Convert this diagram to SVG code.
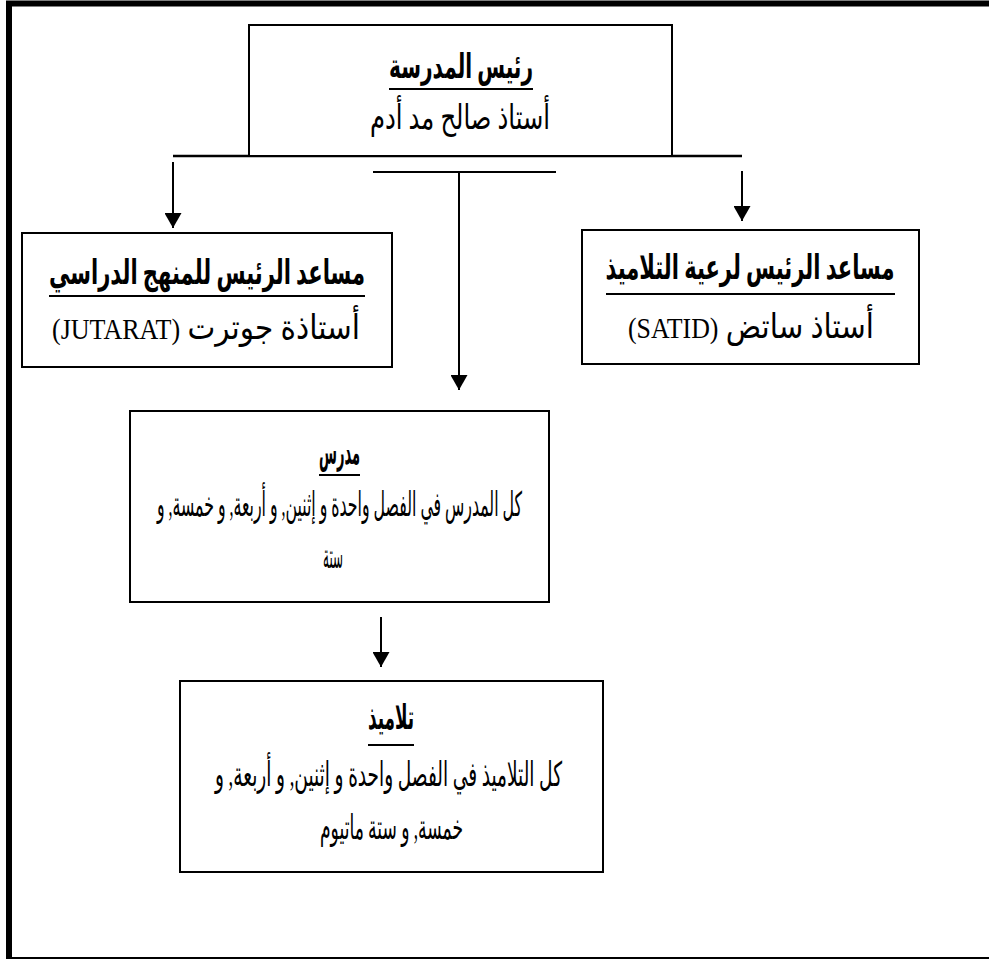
<svg xmlns="http://www.w3.org/2000/svg" width="989" height="959" viewBox="0 0 989 959">
<style>
.box{fill:#fff;stroke:#000;stroke-width:2}
.ln{stroke:#000;stroke-width:2;fill:none}
.ul{stroke:#000;stroke-width:2.2}
.h{font-family:"Liberation Serif","DejaVu Sans",serif;font-weight:bold;font-size:34px;fill:#000}
.t{font-family:"Liberation Serif","DejaVu Sans",serif;font-size:34px;fill:#000}
.lat{font-size:30px}
</style>
<defs>
<marker id="ah" markerUnits="userSpaceOnUse" markerWidth="15" markerHeight="17" refX="15" refY="8.5" orient="auto" viewBox="0 0 15 17">
<path d="M0,0 L15,8.5 L0,17 Z" fill="#000"/>
</marker>
</defs>
<rect width="989" height="959" fill="#fff"/>
<rect id="frame" x="9" y="3.5" width="990" height="956.5" fill="none" stroke="#000" stroke-width="6"/>

<g id="connectors">
<line class="ln" x1="173" y1="156" x2="742" y2="156" style="stroke-width:2.6"/>
<line class="ln" x1="373" y1="172" x2="556" y2="172"/>
<line class="ln" x1="173" y1="162" x2="173" y2="228" marker-end="url(#ah)"/>
<line class="ln" x1="742" y1="171" x2="742" y2="221" marker-end="url(#ah)"/>
<line class="ln" x1="459" y1="172" x2="459" y2="390" marker-end="url(#ah)"/>
<line class="ln" x1="381" y1="617" x2="381" y2="667" marker-end="url(#ah)"/>
</g>

<g id="principal">
<rect class="box" x="249" y="25" width="423" height="131"/>
<text class="h" x="461" y="78" text-anchor="middle" direction="rtl" textLength="144" lengthAdjust="spacingAndGlyphs">رئيس المدرسة</text>
<line class="ul" x1="389" y1="89" x2="533" y2="89"/>
<text class="t" x="460" y="129" text-anchor="middle" direction="rtl" textLength="180" lengthAdjust="spacingAndGlyphs">أستاذ صالح مد أدم</text>
</g>

<g id="assistant-curriculum">
<rect class="box" x="22" y="233" width="370" height="134"/>
<text class="h" x="207" y="284" text-anchor="middle" direction="rtl" textLength="316" lengthAdjust="spacingAndGlyphs">مساعد الرئيس للمنهج الدراسي</text>
<line class="ul" x1="49" y1="296" x2="365" y2="296"/>
<text class="t" x="206" y="339" text-anchor="middle" direction="rtl" textLength="308" lengthAdjust="spacingAndGlyphs">أستاذة جوترت <tspan class="lat">(JUTARAT)</tspan></text>
</g>

<g id="assistant-students">
<rect class="box" x="582" y="230" width="337" height="134"/>
<text class="h" x="750" y="279" text-anchor="middle" direction="rtl" textLength="289" lengthAdjust="spacingAndGlyphs">مساعد الرئيس لرعية التلاميذ</text>
<line class="ul" x1="606" y1="294" x2="895" y2="294"/>
<text class="t" x="751" y="338" text-anchor="middle" direction="rtl" textLength="246" lengthAdjust="spacingAndGlyphs">أستاذ ساتض <tspan class="lat">(SATID)</tspan></text>
</g>

<g id="teacher">
<rect class="box" x="130" y="411" width="419" height="191"/>
<text class="h" x="339.5" y="464" text-anchor="middle" direction="rtl" textLength="41" lengthAdjust="spacingAndGlyphs">مدرس</text>
<line class="ul" x1="319" y1="475" x2="360" y2="475"/>
<text class="t" x="339.5" y="516" text-anchor="middle" direction="rtl" textLength="365" lengthAdjust="spacingAndGlyphs">كل المدرس في الفصل واحدة و إثنين, و أربعة, و خمسة, و</text>
<text class="t" x="333" y="568" text-anchor="middle" direction="rtl" textLength="20" lengthAdjust="spacingAndGlyphs">ستة</text>
</g>

<g id="students">
<rect class="box" x="180" y="681" width="423" height="191"/>
<text class="h" x="391" y="729" text-anchor="middle" direction="rtl" textLength="46" lengthAdjust="spacingAndGlyphs">تلاميذ</text>
<line class="ul" x1="368" y1="745" x2="414" y2="745"/>
<text class="t" x="388.5" y="786" text-anchor="middle" direction="rtl" textLength="347" lengthAdjust="spacingAndGlyphs">كل التلاميذ في الفصل واحدة و إثنين, و أربعة, و</text>
<text class="t" x="391.5" y="839" text-anchor="middle" direction="rtl" textLength="143" lengthAdjust="spacingAndGlyphs">خمسة, و ستة ماتيوم</text>
</g>
</svg>
